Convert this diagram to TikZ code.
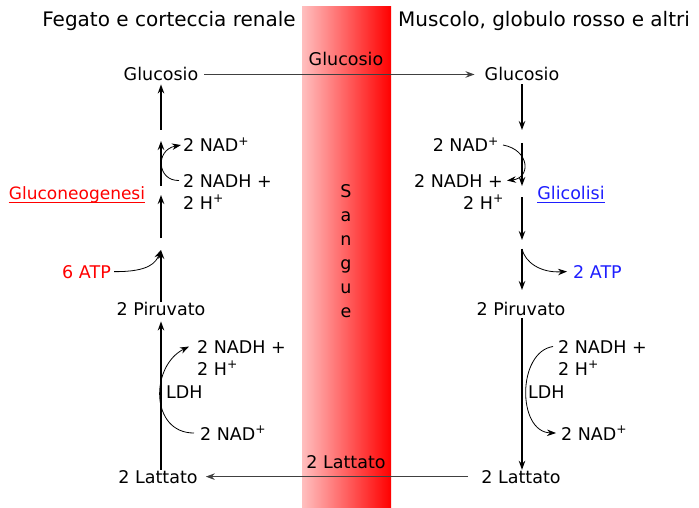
\documentclass[tikz,border=0pt]{standalone}
\usepackage{fontspec}
\setmainfont{DejaVu Sans}
\usetikzlibrary{arrows.meta}
\definecolor{gngred}{RGB}{255,0,0}
\definecolor{glyblue}{RGB}{30,30,255}
\tikzset{
  lbl/.style={inner sep=0pt, font=\fontsize{17.5}{21}\selectfont},
  ttl/.style={inner sep=0pt, font=\fontsize{20}{24}\selectfont},
  flow/.style={-{Stealth[length=9pt,width=6.5pt]}, line width=1.2pt},
  side/.style={-{Stealth[length=9pt,width=6.5pt]}, line width=0.8pt},
  cross/.style={-{Stealth[length=9pt,width=6.5pt]}, line width=1.2pt, draw=black!75},
  uline/.style={line width=0.9pt},
}
\begin{document}
\begin{tikzpicture}[x=1pt,y=-1pt]
    \useasboundingbox (0,0) rectangle (699,508);

    % Blood band
    \node[minimum width=89pt,
      minimum height=501pt,
      inner sep=0pt,
      left color=red!25,
      right color=red] (blood) at (346.5,257.5) {};
    \node[lbl, anchor=north, align=center,
      font=\fontsize{17.5}{24}\selectfont] (sangue) at (346,184) {S\\a\\n\\g\\u\\e};

    % Titles
    \node[ttl, anchor=base] (liver) at (169,27) {Fegato e corteccia renale};
    \node[ttl, anchor=base] (muscle) at (544,27) {Muscolo, globulo rosso e altri};

    % Glucose
    \node[lbl, anchor=base] (gluL) at (161,81) {Glucosio};
    \node[lbl, anchor=base] (gluB) at (346,66) {Glucosio};
    \node[lbl, anchor=base] (gluR) at (522,81) {Glucosio};

    % Pyruvate
    \node[lbl, anchor=base] (piruL) at (161,315) {2 Piruvato};
    \node[lbl, anchor=base] (piruR) at (521,315) {2 Piruvato};

    % Lactate
    \node[lbl, anchor=base] (latL) at (158,483) {2 Lattato};
    \node[lbl, anchor=base] (latB) at (346,468) {2 Lattato};
    \node[lbl, anchor=base] (latR) at (521,483) {2 Lattato};

    % Left side labels
    \node[lbl, anchor=base west] (nadL) at (183,152) {2 NAD\textsuperscript{+}};
    \node[lbl, anchor=base west] (nadhL) at (183,187) {2 NADH +};
    \node[lbl, anchor=base west] (hL) at (183,209) {2 H\textsuperscript{+}};
    \node[lbl, anchor=base, text=gngred,
      font=\fontsize{17}{21}\selectfont] (gng) at (77,200) {Gluconeogenesi};
    \node[lbl, anchor=base east, text=gngred] (atpL) at (111,278) {6 ATP};
    \node[lbl, anchor=base west] (nadhLL) at (197,353) {2 NADH +};
    \node[lbl, anchor=base west] (hLL) at (197,375) {2 H\textsuperscript{+}};
    \node[lbl, anchor=base west] (ldhL) at (166,398) {LDH};
    \node[lbl, anchor=base west] (nadLL) at (200,440) {2 NAD\textsuperscript{+}};

    % Right side labels
    \node[lbl, anchor=base east] (nadR) at (499,152) {2 NAD\textsuperscript{+}};
    \node[lbl, anchor=base east] (nadhR) at (503,187) {2 NADH +};
    \node[lbl, anchor=base east] (hR) at (504,209) {2 H\textsuperscript{+}};
    \node[lbl, anchor=base, text=glyblue] (gly) at (571,200) {Glicolisi};
    \node[lbl, anchor=base west, text=glyblue] (atpR) at (573,278) {2 ATP};
    \node[lbl, anchor=base west] (nadhRR) at (558,353) {2 NADH +};
    \node[lbl, anchor=base west] (hRR) at (558,375) {2 H\textsuperscript{+}};
    \node[lbl, anchor=base west] (ldhR) at (528,398) {LDH};
    \node[lbl, anchor=base west] (nadRR) at (561,440) {2 NAD\textsuperscript{+}};

    % Underlines
    \draw[uline, gngred] ([yshift=-2pt]gng.base west) -- ([yshift=-2pt]gng.base east);
    \draw[uline, glyblue] ([yshift=-2pt]gly.base west) -- ([yshift=-2pt]gly.base east);

    % Segment ends
    \coordinate (l1) at (161,130);
    \coordinate (l2) at (161,186);
    \coordinate (l2t) at (161,141);
    \coordinate (l3) at (161,238);
    \coordinate (l3t) at (161,195);
    \coordinate (l4t) at (161,250);
    \coordinate (r1) at (522,130);
    \coordinate (r2) at (522,143);
    \coordinate (r2t) at (522,186);
    \coordinate (r3) at (522,197);
    \coordinate (r3t) at (522,240);
    \coordinate (r4) at (522,249);
    \coordinate (r4t) at (522,290);

    % Draw Arrows
    \draw[cross, shorten <=6pt, shorten >=10pt] (gluL.east) -- (gluR.west);
    \draw[cross, shorten <=13pt, shorten >=8pt] (latR.west) -- (latL.east);

    \draw[flow] (l1) -- ([yshift=-3pt]gluL.south);
    \draw[flow] (l2) -- (l2t);
    \draw[flow] (l3) -- (l3t);
    \draw[flow] (piruL.north) -- (l4t);
    \draw[flow, shorten >=6pt] (piruL.south |- latL.north) -- (piruL.south);

    \draw[flow, shorten <=3pt] (gluR.south) -- (r1);
    \draw[flow] (r2) -- (r2t);
    \draw[flow] (r3) -- (r3t);
    \draw[flow] (r4) -- (r4t);
    \draw[flow, shorten <=3pt] (gluR.south |- piruR.south) -- (gluR.south |- latR.north);

    \draw[side] ([xshift=-4pt]nadhL.west) .. controls (157,181) and (155,150) .. ([xshift=-2pt]nadL.west);
    \draw[side] ([xshift=3pt]atpL.east) .. controls (150,272) and (156,262) .. (l4t);
    \draw[side] ([xshift=-6pt]nadLL.west) .. controls (150,433) and (150,366) .. ([xshift=-8pt]nadhLL.west);

    \draw[side] ([xshift=4pt]nadR.east) .. controls (530,150) and (531,178) .. ([xshift=4pt]nadhR.east);
    \draw[side] (r4) .. controls (525,262) and (540,273) .. ([xshift=-6pt]atpR.west);
    \draw[side] ([xshift=-5pt]nadhRR.west) .. controls (517,352) and (517,432) .. ([xshift=-5pt]nadRR.west);
  \end{tikzpicture}
\end{document}
